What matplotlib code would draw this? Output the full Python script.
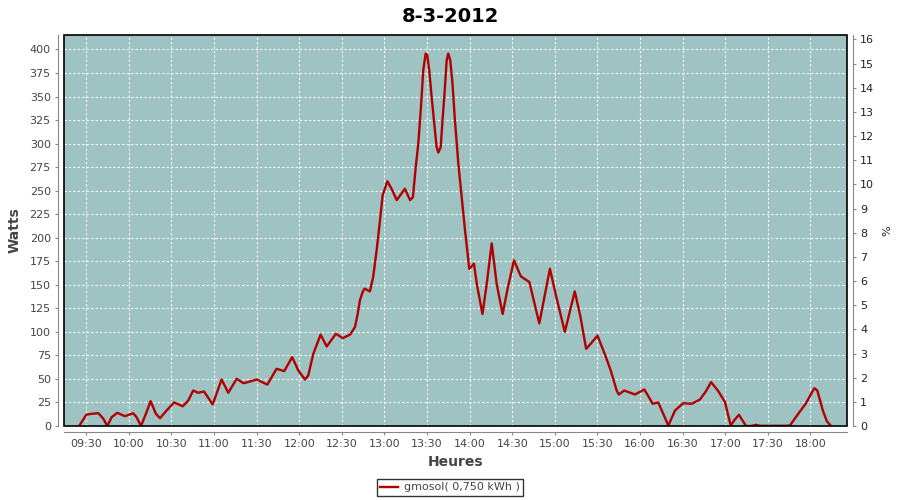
import matplotlib
matplotlib.use("Agg")
import matplotlib.pyplot as plt
from matplotlib.patches import Rectangle

# minutes after 09:30 and power in watts
minutes = [-5, 0, 4, 8.5, 12, 14.8, 17.9, 21.8, 27.2, 33, 35.4, 38.5, 42, 45.3,
           49, 51.9, 56.6, 61.8, 67.9, 71.8, 75.3, 78.8, 82.9, 89, 95.3, 100,
           105.9, 110.6, 113, 120, 127.5, 134, 139.4, 145, 149.3, 154, 156.3,
           159.9, 165, 169.3, 175.8, 180.6, 185.7, 189.2, 191.1, 192.7, 194.5,
           196, 199.7, 202, 204.5, 206.8, 208.7, 212, 215, 218.6, 224.4, 228,
           230, 231.9, 233.8, 235.7, 237.3, 239, 240.1, 241.5, 243.2, 245.1,
           246.7, 247.9, 249.6, 250.7, 252.1, 253.8, 254.9, 256.3, 257.7, 259.6,
           262, 266.7, 269.7, 273, 275, 279, 282, 285.5, 289, 293.2, 297, 301.2,
           306, 312, 319, 326.5, 331, 337, 344, 348, 352, 355, 360, 366, 369.3,
           373.5, 375, 378.8, 386.4, 393, 398.9, 402.8, 406.3, 409.9, 414.6,
           420.4, 426.3, 432.2, 436.4, 440, 445.1, 449.8, 453.8, 456.6, 459.6,
           464.6, 468.6, 471.6, 474.4, 492, 495.5, 501.4, 506.8, 512.7, 514.8,
           518.7, 521.5, 524.2]
watts = [0, 12, 13, 13.6, 7.7, 0, 9.4, 14, 10.4, 13.6, 9.4, 0, 13, 26.4,
         13, 8.3, 16.5, 25, 21, 27, 37.7, 35.3, 36.7, 22.9, 49.4, 35.3,
         50.2, 45.5, 46.3, 49.4, 44, 60.8, 58.3, 73.2, 59, 49.4, 53.7,
         76.8, 97, 84.5, 98, 93.4, 97, 105, 119, 133.4, 142,
         146, 143, 158, 187, 218, 245, 260, 252, 240, 252, 240,
         243, 273.5, 300, 339, 378, 395.7, 394, 378, 349.6, 321.3,
         296.4, 290.5, 296.4, 321.3, 349.6, 388.6, 395.7, 388.6, 367.4, 325,
         278.8, 208, 167, 172.5, 151, 119, 151, 194, 151, 119, 148, 176,
         159, 153, 109, 167, 137, 100, 143, 116, 82, 87, 96, 73, 59,
         37.7, 33.5, 37.7, 33.5, 38.8, 23.6, 25, 13, 0.5, 16.5,
         24.2, 23.6, 28.2, 37, 46.6, 37, 25.3, 0.5, 6.6, 11.9,
         0, 0, 1.3, 0.2, 0.2, 0.5, 13, 24.2, 40.2, 37.7,
         16.5, 5.1, 0.5]
tick_labels = ["09:30", "10:00", "10:30", "11:00", "11:30", "12:00", "12:30",
               "13:00", "13:30", "14:00", "14:30", "15:00", "15:30", "16:00",
               "16:30", "17:00", "17:30", "18:00"]
legend_label = "gmosol( 0,750 kWh )"

start = 9 * 60 + 30
x = [start + m for m in minutes]
tick_pos = [start + 30 * i for i in range(len(tick_labels))]

grey = "#444444"
fig = plt.figure(figsize=(9, 5), dpi=100)
ax = fig.add_axes([0.0711, 0.148, 0.87, 0.782])
ax.set_facecolor("#9ec3c2")

line, = ax.plot(x, watts, color="#b00000", lw=1.7, label=legend_label,
                solid_joinstyle="round", zorder=3)

ax.set_xlim(554.3, 1105.7)
ax.set_ylim(0, 415.4)
ax.set_yticks(range(0, 401, 25))
ax.set_xticks(tick_pos)
ax.set_xticklabels(tick_labels)
ax.grid(True, color="white", linestyle=(0, (2, 2)), lw=0.8)
ax.set_axisbelow(True)

for s in ["top", "right"]:
    ax.spines[s].set_visible(False)
for s in ["left", "bottom"]:
    ax.spines[s].set_position(("outward", 4))
    ax.spines[s].set_color("#888888")
ax.tick_params(direction="out", length=2, color="#888888", labelsize=8, labelcolor=grey)

ax2 = ax.twinx()
ax2.set_ylim(0, 16.18)
ax2.set_yticks(range(0, 17))
for s in ["top", "left", "bottom"]:
    ax2.spines[s].set_visible(False)
ax2.spines["right"].set_position(("outward", 4))
ax2.spines["right"].set_color("#888888")
ax2.tick_params(direction="out", length=2, color="#888888", labelsize=8, labelcolor="#222222")
ax2.set_ylabel("%", fontsize=8, color="#222222", labelpad=6)

# black frame round the plot area
ax.add_patch(Rectangle((0, 0), 1, 1, transform=ax.transAxes, fill=False,
                       edgecolor="black", lw=1.2, zorder=5, clip_on=False))

ax.set_ylabel("Watts", fontsize=10, fontweight="bold", color=grey, labelpad=6)
ax.set_xlabel("Heures", fontsize=10, fontweight="bold", color=grey, labelpad=4)
fig.suptitle("8-3-2012", fontsize=14, fontweight="bold", y=0.985)

leg = fig.legend(handles=[line], loc="center", bbox_to_anchor=(0.5, 0.025),
                 fontsize=8, frameon=True, fancybox=False, edgecolor="black",
                 handlelength=1.6, borderpad=0.3, handletextpad=0.5)
leg.get_frame().set_linewidth(1)
for t in leg.get_texts():
    t.set_color(grey)

fig.savefig("out.png", dpi=100)
